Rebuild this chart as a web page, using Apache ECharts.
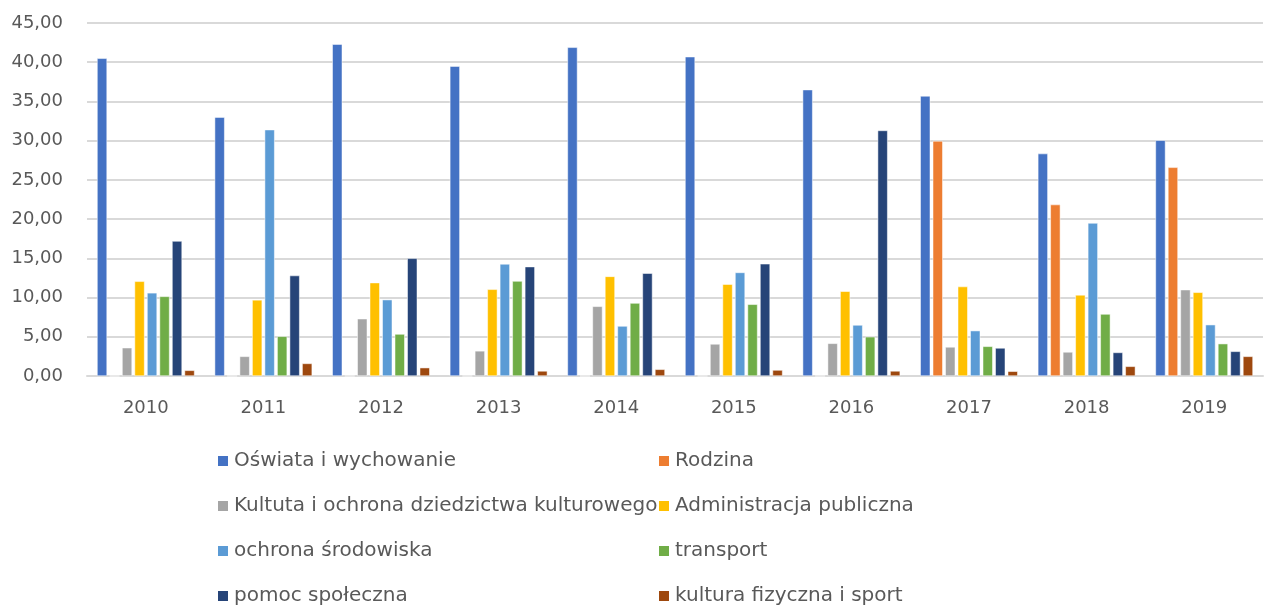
<!DOCTYPE html>
<html>
<head>
<meta charset="utf-8">
<script src="https://cdn.jsdelivr.net/npm/echarts@6/dist/echarts.min.js"></script>
<style>
	html, body { margin: 0; padding: 0; background: #fff; }
	#chart { width: 1265px; height: 608px; }
</style>
</head>
<body>
<div id="chart"></div>
<script>
	var years = ['2010', '2011', '2012', '2013', '2014', '2015', '2016', '2017', '2018', '2019'];

	var oswiata = [40.5, 33.0, 42.3, 39.5, 41.9, 40.7, 36.5, 35.7, 28.35, 30.05];
	var rodzina = [0, 0, 0, 0, 0, 0, 0, 29.96, 21.85, 26.6];
	var kultura = [3.6, 2.5, 7.3, 3.2, 8.88, 4.08, 4.16, 3.7, 3.06, 11.0];
	var administracja = [12.07, 9.7, 11.9, 11.05, 12.7, 11.7, 10.8, 11.4, 10.33, 10.67];
	var srodowisko = [10.6, 31.4, 9.73, 14.28, 6.37, 13.2, 6.5, 5.78, 19.5, 6.54];
	var transport = [10.15, 5.06, 5.35, 12.1, 9.3, 9.14, 5.0, 3.78, 7.9, 4.12];
	var pomoc = [17.2, 12.8, 15.0, 13.94, 13.1, 14.3, 31.3, 3.57, 3.0, 3.14];
	var sport = [0.72, 1.6, 1.06, 0.64, 0.85, 0.76, 0.64, 0.6, 1.23, 2.5];

	var names = [
		'Oświata i wychowanie',
		'Rodzina',
		'Kultuta i ochrona dziedzictwa kulturowego',
		'Administracja publiczna',
		'ochrona środowiska',
		'transport',
		'pomoc społeczna',
		'kultura fizyczna i sport'
	];
	var values = [oswiata, rodzina, kultura, administracja, srodowisko, transport, pomoc, sport];
	var colors = ['#4472C4', '#ED7D31', '#A5A5A5', '#FFC000', '#5B9BD5', '#70AD47', '#264478', '#9E480E'];

	var font = 'DejaVu Sans, sans-serif';

	// legenda w dwóch kolumnach
	var legendBase = {
		orient: 'vertical',
		top: 450,
		height: 158,
		padding: 0,
		itemWidth: 12,
		itemHeight: 12,
		itemGap: 23,
		icon: 'rect',
		textStyle: { color: '#595959', fontSize: 20, fontFamily: font, lineHeight: 22, padding: [0, 0, 0, 0] },
		selectedMode: false
	};

	var chart = echarts.init(document.getElementById('chart'));
	chart.setOption({
		color: colors,
		animation: false,
		grid: {
			left: 87,
			right: 2,
			top: 23,
			bottom: 232
		},
		legend: [
			Object.assign({}, legendBase, { left: 216, data: [names[0], names[2], names[4], names[6]] }),
			Object.assign({}, legendBase, { left: 657, data: [names[1], names[3], names[5], names[7]] })
		],
		xAxis: {
			type: 'category',
			data: years,
			axisLine: { lineStyle: { color: '#d9d9d9', width: 2 } },
			axisTick: { show: false },
			axisLabel: { color: '#595959', fontSize: 18, fontFamily: font, margin: 23 }
		},
		yAxis: {
			type: 'value',
			min: 0,
			max: 45,
			interval: 5,
			axisLine: { show: false },
			axisTick: { show: false },
			splitLine: { lineStyle: { color: '#d9d9d9', width: 2 } },
			axisLabel: {
				color: '#595959',
				fontSize: 18,
				fontFamily: font,
				margin: 24,
				formatter: function (v) { return v.toFixed(2).replace('.', ','); }
			}
		},
		series: names.map(function (n, i) {
			return {
				name: n,
				type: 'bar',
				data: values[i],
				barWidth: 10,
				barGap: '25%',
				itemStyle: { color: colors[i], borderColor: '#ffffff', borderWidth: 0.5 }
			};
		})
	});
</script>
</body>
</html>
